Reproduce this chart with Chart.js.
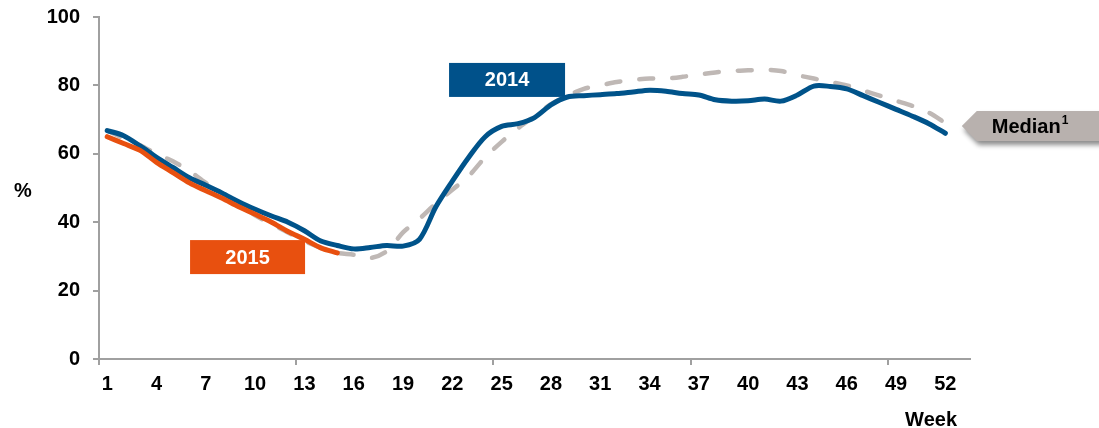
<!DOCTYPE html>
<html>
<head>
<meta charset="utf-8">
<script src="https://cdn.jsdelivr.net/npm/chart.js@4/dist/chart.umd.min.js"></script>
<style>
  html, body { margin: 0; padding: 0; background: #fff; }
  #wrap { width: 1099px; height: 428px; position: relative; }
</style>
</head>
<body>
<div id="wrap"><canvas id="c" width="1099" height="428"></canvas></div>
<script>
const weeks = ['1','2','3','4','5','6','7','8','9','10','11','12','13','14','15','16','17','18','19','20',
  '21','22','23','24','25','26','27','28','29','30','31','32','33','34','35','36','37','38','39','40',
  '41','42','43','44','45','46','47','48','49','50','51','52','53'];
const tickLabels = ['1','4','7','10','13','16','19','22','25','28','31','34','37','40','43','46','49','52'];
const majorTickWeeks = ['1','13','25','37','49'];

const series2014 = [66.8,65.3,62.3,59,56,53,50.8,48.5,46,43.8,41.8,40,37.5,34.5,33.2,32.2,32.6,33.2,33,35,
  44.5,52,59,65,68,68.8,70.6,74.3,76.6,77,77.3,77.6,78.1,78.6,78.3,77.6,77.2,75.8,75.4,75.5,
  76,75.4,77.2,79.8,79.7,79,77,75,73,71,68.8,66];
const series2015 = [65,63,61,57.5,54.5,51.5,49.2,47,44.5,42.3,40,37.3,35,32.5,31];
const seriesMedian = [66.8,64.5,62.5,60,57.8,55,51.5,48.5,45.5,42,39.5,37,34.5,32.5,31,30.5,29.5,31.5,37,41,
  45.5,49.5,53.5,59,63.5,67.5,71,74.5,77,79,80,81,81.6,82,82,82.5,83.2,83.8,84.2,84.4,
  84.6,84.2,83,82,81,80,78.5,77,75.5,74,72,69];

const callouts = [
  { text: '2014', index: 24.33, value: 81.6, w: 116, h: 34, color: '#00518A' },
  { text: '2015', index: 8.54, value: 29.8, w: 115, h: 34, color: '#E8500F' }
];
const medianTag = { text: 'Median', sup: '1', index: 52.0, value: 68.1 };

const FONT = '"Liberation Sans", Arial, sans-serif';

const annot = {
  id: 'annot',
  afterDatasetsDraw(chart) {
    const ctx = chart.ctx;
    const xs = chart.scales.x, ys = chart.scales.y;
    ctx.save();
    callouts.forEach(c => {
      const cx = xs.getPixelForValue(c.index), cy = ys.getPixelForValue(c.value);
      ctx.fillStyle = c.color;
      ctx.fillRect(cx - c.w / 2, cy - c.h / 2, c.w, c.h);
      ctx.fillStyle = '#fff';
      ctx.font = 'bold 20px ' + FONT;
      ctx.textAlign = 'center';
      ctx.textBaseline = 'middle';
      ctx.fillText(c.text, cx, cy + 1);
    });
    // median tag
    const tx = xs.getPixelForValue(medianTag.index), ty = ys.getPixelForValue(medianTag.value);
    ctx.save();
    ctx.shadowColor = 'rgba(0,0,0,0.45)';
    ctx.shadowBlur = 5;
    ctx.shadowOffsetX = 2;
    ctx.shadowOffsetY = 4;
    ctx.fillStyle = '#B8B1AE';
    ctx.beginPath();
    ctx.moveTo(tx, ty);
    ctx.lineTo(tx + 15, ty - 15);
    ctx.lineTo(chart.width + 5, ty - 15);
    ctx.lineTo(chart.width + 5, ty + 15);
    ctx.lineTo(tx + 15, ty + 15);
    ctx.closePath();
    ctx.fill();
    ctx.restore();
    ctx.fillStyle = '#000';
    ctx.font = 'bold 20px ' + FONT;
    ctx.textAlign = 'left';
    ctx.textBaseline = 'middle';
    const mx = tx + 30;
    ctx.fillText(medianTag.text, mx, ty + 1);
    const mw = ctx.measureText(medianTag.text).width;
    ctx.font = 'bold 12px ' + FONT;
    ctx.fillText(medianTag.sup, mx + mw + 1, ty - 5);
    // axis titles
    ctx.font = 'bold 20px ' + FONT;
    ctx.textAlign = 'center';
    ctx.fillText('%', 23, 191);
    ctx.textAlign = 'right';
    ctx.fillText('Week', 957, 420);
    ctx.restore();
  }
};

new Chart(document.getElementById('c'), {
  type: 'line',
  data: {
    labels: weeks,
    datasets: [
      { label: '2015', data: series2015, borderColor: '#E8500F', borderWidth: 5, pointRadius: 0,
        tension: 0.3, borderCapStyle: 'round', borderJoinStyle: 'round', order: 1, fill: false },
      { label: '2014', data: series2014, borderColor: '#00538A', borderWidth: 5, pointRadius: 0,
        tension: 0.3, borderCapStyle: 'round', borderJoinStyle: 'round', order: 2, fill: false },
      { label: 'Median', data: seriesMedian, borderColor: '#BFB8B5', borderWidth: 4.5, pointRadius: 0,
        borderDash: [14, 19], tension: 0.3, borderCapStyle: 'round', order: 3, fill: false }
    ]
  },
  options: {
    responsive: false,
    animation: false,
    events: [],
    layout: { padding: { top: 17, right: 129, left: 0, bottom: 0 } },
    plugins: { legend: { display: false }, tooltip: { enabled: false } },
    scales: {
      x: {
        type: 'category',
        offset: true,
        afterFit(s) { s.height = 69; s.paddingLeft = 0; s.paddingRight = 0; },
        grid: {
          offset: true,
          drawOnChartArea: false,
          tickLength: 6,
          lineWidth: 2,
          color: (ctx) => (ctx.index < weeks.length && majorTickWeeks.includes(weeks[ctx.index])) ? '#A0A0A0' : 'rgba(0,0,0,0)'
        },
        border: { display: true, color: '#A0A0A0', width: 2 },
        ticks: {
          autoSkip: false,
          maxRotation: 0,
          minRotation: 0,
          padding: 7,
          color: '#000',
          font: { family: FONT, size: 20, weight: 'bold' },
          callback: function (val, idx) { return tickLabels.includes(weeks[idx]) ? weeks[idx] : ''; }
        }
      },
      y: {
        min: 0, max: 100,
        afterFit(s) { s.width = 99; s.paddingTop = 0; s.paddingBottom = 0; },
        grid: { drawOnChartArea: false, tickLength: 6, lineWidth: 2, color: '#A0A0A0' },
        border: { display: true, color: '#A0A0A0', width: 2 },
        ticks: {
          stepSize: 20,
          padding: 13,
          color: '#000',
          font: { family: FONT, size: 20, weight: 'bold' }
        }
      }
    }
  },
  plugins: [annot]
});
</script>
</body>
</html>
